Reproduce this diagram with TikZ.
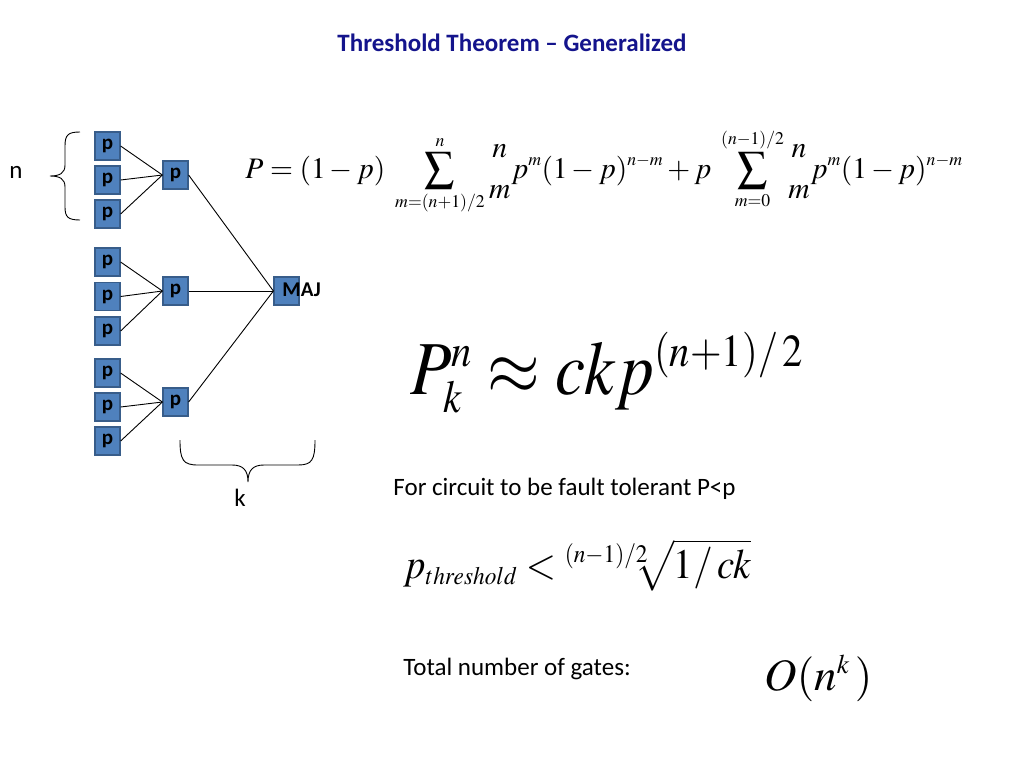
\documentclass[tikz,border=0pt]{standalone}
\usepackage{amsmath}
\usepackage{mathptmx}
\usepackage[no-math]{fontspec}
\setmainfont{Carlito}
\usepackage{graphicx}
\usetikzlibrary{positioning}
\definecolor{boxblue}{HTML}{4F81BD}
\definecolor{boxedge}{HTML}{385D8A}
\definecolor{titleblue}{HTML}{14148C}
\newcommand{\ssty}{\scriptscriptstyle}

\begin{document}
\begin{tikzpicture}[x=1pt,y=-1pt,node distance=0.5cm,line width=0.9pt,
                       main node/.style={rectangle,fill=boxblue,draw=boxedge,line width=1.2pt,minimum width=25pt,minimum height=28pt,inner sep=0pt,font=\fontsize{21}{21}\selectfont\bfseries},
                       body text/.style={font=\fontsize{25}{25}\selectfont,inner sep=0pt},
                       formula/.style={inner sep=0pt,anchor=base west}
                      ]
  \path[use as bounding box,fill=white] (0,0) rectangle (1024,768);
  \node[body text,font=\fontsize{25}{25}\selectfont\bfseries,text=titleblue] (title) at (512,43) {Threshold Theorem -- Generalized};
  % first level
  \node[main node] (a1) at (107.5,146) {p};
  \node[main node] (a2) at (107.5,180) {p};
  \node[main node] (a3) at (107.5,214) {p};
  \node[main node] (b1) at (107.5,262) {p};
  \node[main node] (b2) at (107.5,296.5) {p};
  \node[main node] (b3) at (107.5,331) {p};
  \node[main node] (c1) at (107.5,373) {p};
  \node[main node] (c2) at (107.5,407) {p};
  \node[main node] (c3) at (107.5,441) {p};
  % second level
  \node[main node] (a) at (175.5,175) {p};
  \node[main node] (b) at (175.5,291) {p};
  \node[main node] (c) at (175.5,402) {p};
  \node[main node] (maj) at (286.5,291) {};
  \node[inner sep=0pt,anchor=base west,font=\fontsize{21}{21}\selectfont\bfseries] (majlabel) at (282,296) {MAJ};
    \path[draw]%
      (a1.east) edge (a.west)
      (a2.east) edge (a.west)
      (a3.east) edge (a.west)
      (b1.east) edge (b.west)
      (b2.east) edge (b.west)
      (b3.east) edge (b.west)
      (c1.east) edge (c.west)
      (c2.east) edge (c.west)
      (c3.east) edge (c.west)
      (a.east) edge (maj.west)
      (b.east) edge (maj.west)
      (c.east) edge (maj.west);
  % braces
  \draw (80,132) .. controls (68,132) and (65,135) .. (65,146) -- (65,165)
        .. controls (65,173) and (60,176) .. (50,176)
        .. controls (60,176) and (65,179) .. (65,187) -- (65,207)
        .. controls (65,217) and (68,220) .. (80,220);
  \draw (180,440) .. controls (180,460) and (183,465) .. (198,465) -- (232,465)
        .. controls (243,465) and (248,470) .. (248,482)
        .. controls (248,470) and (253,465) .. (264,465) -- (298,465)
        .. controls (312,465) and (315,460) .. (315,440);
  \node[body text] (n) at (16,172) {n};
  \node[body text] (k) at (240,498) {k};
  % formulas
  \node[formula,font=\fontsize{36}{36}\selectfont] (sum) at (245,178) {\resizebox{717pt}{50pt}{$\displaystyle P=(1-p)\;\sum_{\ssty m=(n+1)/2}^{\ssty n}\genfrac{}{}{0pt}{0}{n}{m}p^{\ssty m}(1-p)^{\ssty n-m}+p\;\sum_{\ssty m=0}^{\ssty (n-1)/2}\genfrac{}{}{0pt}{0}{n}{m}p^{\ssty m}(1-p)^{\ssty n-m}$}};
  \node[formula,font=\fontsize{80}{80}\selectfont] (approx) at (410,394) {\resizebox{393pt}{62pt}{$P_{\ssty k}^{\ssty n}\approx ckp^{\ssty (n+1)/\,2}$}};
  \node[body text,anchor=base west] (tolerant) at (393,495) {For circuit to be fault tolerant P<p};
  \node[formula,font=\fontsize{50}{50}\selectfont] (thresh) at (403,578) {\resizebox{348pt}{39pt}{$p_{\ssty threshold}<{}^{\ssty (n-1)/2}\!\!\!\sqrt{1/\,ck}$}};
  \node[body text,anchor=base west] (gates) at (403,675) {Total number of gates:};
  \node[formula,font=\fontsize{45}{45}\selectfont] (order) at (764,690) {$O(n^{\ssty k}\,)$};
   \end{tikzpicture}
\end{document}
